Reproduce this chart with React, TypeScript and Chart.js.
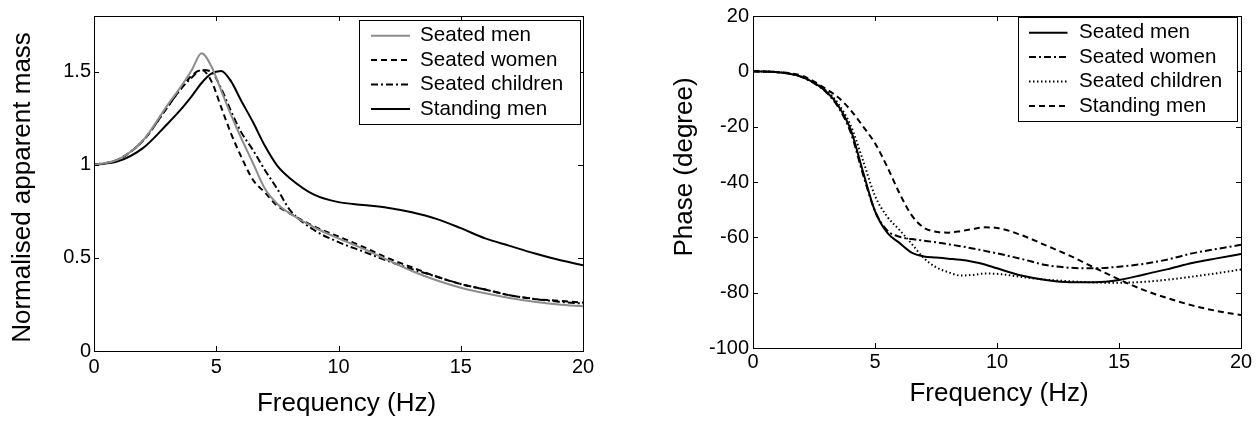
import React, { useEffect, useRef } from 'react';
import { Chart, registerables } from 'chart.js';

Chart.register(...registerables);

const FONT = "'Liberation Sans', Arial, Helvetica, sans-serif";

// ---------- Left chart: normalised apparent mass ----------
const massFreq = [0, 1, 2, 3, 3.5, 4, 4.4, 4.8, 5.2, 5.6, 6, 6.5, 7, 7.5, 8, 9, 10, 11, 12, 13, 14, 15, 16, 17, 18, 19, 20];
const massSeatedMen = [1.0, 1.03, 1.13, 1.32, 1.41, 1.51, 1.6, 1.53, 1.4, 1.27, 1.15, 1.01, 0.87, 0.79, 0.74, 0.665, 0.605, 0.55, 0.49, 0.43, 0.38, 0.34, 0.31, 0.285, 0.265, 0.25, 0.24];
const massSeatedWomen = [1.0, 1.03, 1.13, 1.31, 1.4, 1.48, 1.51, 1.45, 1.31, 1.17, 1.05, 0.92, 0.85, 0.78, 0.74, 0.67, 0.615, 0.56, 0.5, 0.45, 0.4, 0.36, 0.33, 0.3, 0.28, 0.27, 0.26];
const massSeatedChildren = [1.0, 1.03, 1.13, 1.31, 1.4, 1.47, 1.51, 1.5, 1.41, 1.29, 1.18, 1.08, 0.97, 0.87, 0.76, 0.65, 0.585, 0.535, 0.485, 0.44, 0.4, 0.36, 0.33, 0.3, 0.28, 0.265, 0.255];
const massStandingMen = [1.0, 1.02, 1.09, 1.22, 1.29, 1.37, 1.44, 1.49, 1.505, 1.45, 1.35, 1.23, 1.1, 0.995, 0.93, 0.84, 0.8, 0.785, 0.77, 0.745, 0.71, 0.66, 0.605, 0.565, 0.525, 0.49, 0.46];
const massXTicks = [0, 5, 10, 15, 20];
const massYTicks = [0, 0.5, 1, 1.5];

// ---------- Right chart: phase ----------
const phaseFreq = [0, 1, 2, 3, 3.5, 4, 4.5, 5, 5.5, 6, 6.5, 7, 7.5, 8, 8.5, 9, 9.5, 10, 11, 12, 13, 14, 15, 16, 17, 18, 19, 20];
const phaseSeatedMen = [0, -0.3, -2.0, -7.3, -12.5, -21.0, -36.0, -50.5, -58.3, -62.0, -65.5, -66.9, -67.3, -67.7, -68.1, -68.8, -69.8, -71.2, -73.8, -75.4, -76.2, -76.2, -75.4, -73.5, -71.5, -69.3, -67.6, -66.0];
const phaseSeatedWomen = [0, -0.3, -2.1, -7.6, -13.0, -22.0, -37.0, -50.5, -57.5, -59.8, -60.6, -61.2, -61.8, -62.5, -63.2, -64.0, -64.9, -65.8, -67.8, -70.0, -71.0, -71.2, -70.6, -69.6, -68.0, -65.8, -64.2, -62.7];
const phaseSeatedChildren = [0, -0.3, -2.0, -7.0, -11.8, -19.5, -32.0, -45.0, -52.5, -57.3, -62.3, -67.5, -70.8, -72.6, -73.8, -73.6, -73.1, -73.2, -74.3, -75.3, -75.9, -76.3, -76.4, -76.1, -75.3, -74.2, -73.0, -71.6];
const phaseStandingMen = [0, -0.3, -1.6, -6.4, -9.5, -14.0, -19.8, -26.0, -34.5, -44.0, -52.0, -56.5, -58.0, -58.3, -57.8, -57.0, -56.4, -56.6, -59.2, -62.9, -66.7, -71.0, -75.2, -79.0, -82.0, -84.6, -86.6, -88.1];
const phaseXTicks = [0, 5, 10, 15, 20];
const phaseYTicks = [20, 0, -20, -40, -60, -80, -100];

const seriesLabels = ['Seated men', 'Seated women', 'Seated children', 'Standing men'];

const DASHED = [6, 4];
const DASHDOT = [7, 3, 2, 3];
const DOTTED = [1.5, 2.5];

const toPoints = (xs: number[], ys: number[]) => xs.map((x, i) => ({ x, y: ys[i] }));

const frameTicks = {
  id: 'frameTicks',
  afterDatasetsDraw(chart: any, _args: any, opts: any) {
    const { ctx, chartArea: a } = chart;
    const xs = chart.scales.x;
    const ys = chart.scales.y;
    const len = opts.length ?? 5;
    ctx.save();
    ctx.strokeStyle = '#000';
    ctx.lineWidth = 1;
    ctx.beginPath();
    xs.ticks.forEach((t: any) => {
      const p = Math.round(xs.getPixelForValue(t.value)) + 0.5;
      ctx.moveTo(p, a.bottom);
      ctx.lineTo(p, a.bottom - len);
      ctx.moveTo(p, a.top);
      ctx.lineTo(p, a.top + len);
    });
    ys.ticks.forEach((t: any) => {
      const p = Math.round(ys.getPixelForValue(t.value)) + 0.5;
      ctx.moveTo(a.left, p);
      ctx.lineTo(a.left + len, p);
      ctx.moveTo(a.right, p);
      ctx.lineTo(a.right - len, p);
    });
    ctx.stroke();
    ctx.strokeRect(Math.round(a.left) + 0.5, Math.round(a.top) + 0.5, Math.round(a.right - a.left), Math.round(a.bottom - a.top));
    ctx.restore();
  },
};

// Shifts the built-in axis titles by a few pixels (MATLAB places them slightly off-centre).
const titleShift = {
  id: 'titleShift',
  afterLayout(chart: any, _args: any, o: any) {
    ['x', 'y'].forEach((id) => {
      const s = chart.scales[id];
      const sh = o && o[id];
      if (!s || !sh || s.__shifted) return;
      const orig = s.drawTitle.bind(s);
      s.drawTitle = function () {
        const ctx = this.ctx;
        ctx.save();
        ctx.translate(sh.dx || 0, sh.dy || 0);
        orig();
        ctx.restore();
      };
      s.__shifted = true;
    });
  },
};

const boxLegend = {
  id: 'boxLegend',
  afterDraw(chart: any, _args: any, o: any) {
    const { ctx } = chart;
    ctx.save();
    ctx.fillStyle = '#fff';
    ctx.fillRect(o.left, o.top, o.width, o.height);
    ctx.strokeStyle = '#000';
    ctx.lineWidth = 1;
    ctx.strokeRect(o.left + 0.5, o.top + 0.5, o.width, o.height);
    ctx.font = `${o.fontSize}px ${FONT}`;
    ctx.textBaseline = 'middle';
    ctx.textAlign = 'left';
    chart.data.datasets.forEach((ds: any, i: number) => {
      const y = o.top + o.firstRow + i * o.rowGap;
      ctx.save();
      ctx.strokeStyle = ds.borderColor;
      ctx.lineWidth = ds.borderWidth;
      ctx.setLineDash(ds.borderDash || []);
      ctx.beginPath();
      ctx.moveTo(o.left + o.sampleStart, y);
      ctx.lineTo(o.left + o.sampleStart + o.sampleLen, y);
      ctx.stroke();
      ctx.restore();
      ctx.fillStyle = '#000';
      ctx.fillText(ds.label, o.left + o.textStart, y);
    });
    ctx.restore();
  },
};

function makeConfig(p: any) {
  return {
    type: 'line',
    data: { datasets: p.datasets },
    options: {
      responsive: false,
      animation: false,
      layout: { padding: { left: 0, top: p.padTop, right: p.padRight, bottom: 0 } },
      elements: { point: { radius: 0 }, line: { cubicInterpolationMode: 'monotone', borderCapStyle: 'butt' } },
      plugins: {
        legend: { display: false },
        tooltip: { enabled: false },
        frameTicks: { length: 5 },
        boxLegend: p.legend,
        titleShift: p.titleShift,
      },
      scales: {
        x: {
          type: 'linear',
          min: 0,
          max: 20,
          afterBuildTicks: (s: any) => { s.ticks = p.xTicks.map((v: number) => ({ value: v })); },
          afterFit: (s: any) => { s.height = p.xAxisHeight; },
          grid: { display: false, drawTicks: false },
          border: { display: false },
          ticks: { font: { family: FONT, size: 20 }, color: '#000', padding: p.xTickPad, maxRotation: 0, autoSkip: false, callback: (v: any) => String(v) },
          title: { display: true, text: 'Frequency (Hz)', font: { family: FONT, size: 26 }, color: '#000', padding: { top: 0, bottom: p.xTitlePad } },
        },
        y: {
          type: 'linear',
          min: p.yMin,
          max: p.yMax,
          afterBuildTicks: (s: any) => { s.ticks = p.yTicks.map((v: number) => ({ value: v })); },
          afterFit: (s: any) => { s.width = p.yAxisWidth; },
          grid: { display: false, drawTicks: false },
          border: { display: false },
          ticks: { font: { family: FONT, size: 20 }, color: '#000', padding: p.yTickPad, autoSkip: false, callback: (v: any) => String(v) },
          title: { display: true, text: p.yTitle, font: { family: FONT, size: 26 }, color: '#000', padding: { top: p.yTitlePad, bottom: 0 } },
        },
      },
    },
    plugins: [frameTicks, boxLegend, titleShift],
  };
}

const legendLayout = { width: 220, height: 104, firstRow: 15.7, rowGap: 24.4, sampleStart: 12, sampleLen: 39, textStart: 61, fontSize: 20.6 };

const massConfig = () =>
  makeConfig({
    datasets: [
      { label: seriesLabels[0], data: toPoints(massFreq, massSeatedMen), borderColor: '#8c8c8c', borderWidth: 2, borderDash: [] },
      { label: seriesLabels[1], data: toPoints(massFreq, massSeatedWomen), borderColor: '#000', borderWidth: 2, borderDash: DASHED },
      { label: seriesLabels[2], data: toPoints(massFreq, massSeatedChildren), borderColor: '#000', borderWidth: 2, borderDash: DASHDOT },
      { label: seriesLabels[3], data: toPoints(massFreq, massStandingMen), borderColor: '#000', borderWidth: 2, borderDash: [] },
    ],
    padTop: 16,
    padRight: 45,
    xAxisHeight: 70,
    yAxisWidth: 94,
    xTicks: massXTicks,
    yTicks: massYTicks,
    yMin: 0,
    yMax: 1.8,
    xTickPad: 4,
    yTickPad: 3,
    xTitlePad: 2,
    yTitle: 'Normalised apparent mass',
    yTitlePad: 7,
    titleShift: { x: { dx: 8, dy: 0 }, y: { dx: 0, dy: 4 } },
    legend: { ...legendLayout, left: 359, top: 20, width: 221 },
  });

const phaseConfig = () =>
  makeConfig({
    datasets: [
      { label: seriesLabels[0], data: toPoints(phaseFreq, phaseSeatedMen), borderColor: '#000', borderWidth: 2, borderDash: [] },
      { label: seriesLabels[1], data: toPoints(phaseFreq, phaseSeatedWomen), borderColor: '#000', borderWidth: 2, borderDash: DASHDOT },
      { label: seriesLabels[2], data: toPoints(phaseFreq, phaseSeatedChildren), borderColor: '#000', borderWidth: 2, borderDash: DOTTED },
      { label: seriesLabels[3], data: toPoints(phaseFreq, phaseStandingMen), borderColor: '#000', borderWidth: 2, borderDash: DASHED },
    ],
    padTop: 13,
    padRight: 15,
    xAxisHeight: 73,
    yAxisWidth: 125,
    xTicks: phaseXTicks,
    yTicks: phaseYTicks,
    yMin: -100,
    yMax: 20,
    xTickPad: 2,
    yTickPad: 4,
    xTitlePad: 12,
    yTitle: 'Phase (degree)',
    yTitlePad: 41,
    titleShift: { x: { dx: 2, dy: 0 }, y: { dx: 0, dy: -15 } },
    legend: { ...legendLayout, left: 390, top: 17, width: 219, sampleStart: 11, sampleLen: 38.5 },
  });

function ChartCanvas({ makeCfg, left, width }: { makeCfg: () => any; left: number; width: number }) {
  const ref = useRef<HTMLCanvasElement | null>(null);
  useEffect(() => {
    if (!ref.current) return;
    const chart = new Chart(ref.current, makeCfg());
    return () => chart.destroy();
  }, [makeCfg]);
  return (
    <canvas
      ref={ref}
      width={width}
      height={421}
      style={{ position: 'absolute', left, top: 0, width, height: 421, display: 'block' }}
    />
  );
}

export default function App() {
  return (
    <div style={{ position: 'absolute', left: 0, top: 0, width: 1256, height: 421, background: '#fff', overflow: 'hidden' }}>
      <ChartCanvas makeCfg={massConfig} left={0} width={628} />
      <ChartCanvas makeCfg={phaseConfig} left={628} width={628} />
    </div>
  );
}
